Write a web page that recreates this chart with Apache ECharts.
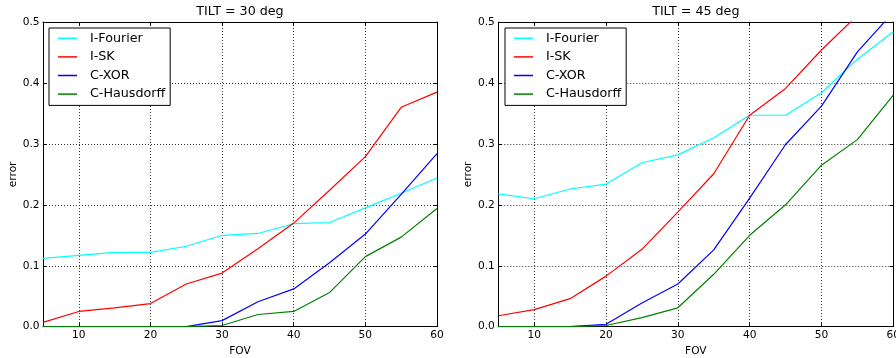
<!DOCTYPE html>
<html>
<head>
<meta charset="utf-8">
<script src="https://cdn.jsdelivr.net/npm/echarts@6/dist/echarts.min.js"></script>
<style>
html,body{margin:0;padding:0;background:#fff;}
#c{width:896px;height:358px;}
</style>
</head>
<body>
<div id="c"></div>
<script>
const fov = [5,10,15,20,25,30,35,40,45,50,55,60];
const seriesNames = ['I-Fourier','I-SK','C-XOR','C-Hausdorff'];
const titles = ['TILT = 30 deg','TILT = 45 deg'];

// TILT = 30 deg
const fourier30 = [0.112,0.117,0.122,0.122,0.132,0.150,0.153,0.169,0.171,0.195,0.219,0.244];
const sk30      = [0.007,0.025,0.031,0.038,0.070,0.088,0.128,0.170,0.224,0.279,0.360,0.385];
const xor30     = [0,0,0,0,0,0.010,0.041,0.062,0.105,0.152,0.217,0.284];
const haus30    = [0,0,0,0,0,0.002,0.020,0.025,0.056,0.115,0.147,0.194];

// TILT = 45 deg
const fourier45 = [0.218,0.210,0.226,0.234,0.269,0.282,0.310,0.347,0.347,0.384,0.439,0.484];
const sk45      = [0.018,0.028,0.046,0.083,0.127,0.188,0.251,0.347,0.391,0.454,0.511,0.560];
const xor45     = [0,0,0,0.004,0.039,0.070,0.126,0.211,0.299,0.362,0.451,0.516];
const haus45    = [0,0,0,0.002,0.015,0.031,0.086,0.150,0.200,0.265,0.307,0.380];

const colors = ['#00ffff','#ff0000','#0000ff','#008000'];
const FONT = 'DejaVu Sans';

const chart = echarts.init(document.getElementById('c'), null, {renderer:'canvas'});

const grids = [
  {left:43, top:22, width:394, height:304.7, outerBoundsMode:'none', containLabel:false},
  {left:498.3, top:22, width:395, height:304.7, outerBoundsMode:'none', containLabel:false}
];

const xAxes = [], yAxes = [], series = [], legends = [], titleArr = [];
const dataSets = [[fourier30, sk30, xor30, haus30],[fourier45, sk45, xor45, haus45]];

grids.forEach((g, gi) => {
  const lineStyle = {color:'#000', width:1};
  const tick = {show:true, inside:true, length:3.5, lineStyle:{color:'#000', width:1}};
  const split = {show:true, lineStyle:{color:'#333', width:1, type:[1,2]}};
  xAxes.push({
    gridIndex:gi, type:'value', min:5, max:60, position:'bottom',
    axisLine:{show:true, onZero:false, lineStyle},
    axisTick:tick, splitLine:split,
    axisLabel:{show:true, showMinLabel:false, margin:3, color:'#000', fontFamily:FONT, fontSize:10.6,
      formatter:v => (v % 10 === 0 ? String(v) : '')},
    name:'FOV', nameLocation:'middle', nameGap:17,
    nameTextStyle:{color:'#000', fontFamily:FONT, fontSize:10.6}
  });
  xAxes.push({
    gridIndex:gi, type:'value', min:5, max:60, position:'top',
    axisLine:{show:true, onZero:false, lineStyle},
    axisTick:tick, splitLine:{show:false}, axisLabel:{show:false}
  });
  yAxes.push({
    gridIndex:gi, type:'value', min:0, max:0.5, interval:0.1, position:'left',
    axisLine:{show:true, onZero:false, lineStyle},
    axisTick:tick, splitLine:split,
    axisLabel:{show:true, margin:3.5, color:'#000', fontFamily:FONT, fontSize:10.6,
      formatter:v => v.toFixed(1)},
    name:'error', nameLocation:'middle', nameGap:24,
    nameTextStyle:{color:'#000', fontFamily:FONT, fontSize:10.6}
  });
  yAxes.push({
    gridIndex:gi, type:'value', min:0, max:0.5, interval:0.1, position:'right',
    axisLine:{show:true, onZero:false, lineStyle},
    axisTick:tick, splitLine:{show:false}, axisLabel:{show:false}
  });
  seriesNames.forEach((n, si) => {
    series.push({
      name:n, type:'line', xAxisIndex:gi*2, yAxisIndex:gi*2,
      data: fov.map((x, i) => [x, dataSets[gi][si][i]]),
      showSymbol:false, symbol:'none', clip:true,
      lineStyle:{color:colors[si], width:1.2}, itemStyle:{color:colors[si]},
      animation:false, z:2+si
    });
  });
  legends.push({
    orient:'vertical', left: gi === 0 ? 49 : 505, top:28,
    data: seriesNames.map((n, si) => ({name:n, icon:'rect', itemStyle:{color:colors[si]}})),
    itemWidth:19, itemHeight:1.5, itemGap:0,
    padding:[1,5,2,9],
    backgroundColor:'#fff', borderColor:'#000', borderWidth:1, borderRadius:0,
    selectedMode:false,
    textStyle:{color:'#000', fontFamily:FONT, fontSize:12.7, lineHeight:18.6, padding:[0,0,0,8]}
  });
  titleArr.push({
    text: titles[gi], left: g.left + g.width/2, top:5, textAlign:'center', padding:0,
    textStyle:{color:'#000', fontFamily:FONT, fontSize:12.7, fontWeight:'normal'}
  });
});

chart.setOption({
  animation:false,
  backgroundColor:'#fff',
  title:titleArr,
  grid:grids,
  xAxis:xAxes,
  yAxis:yAxes,
  legend:legends,
  series:series
});
</script>
</body>
</html>
